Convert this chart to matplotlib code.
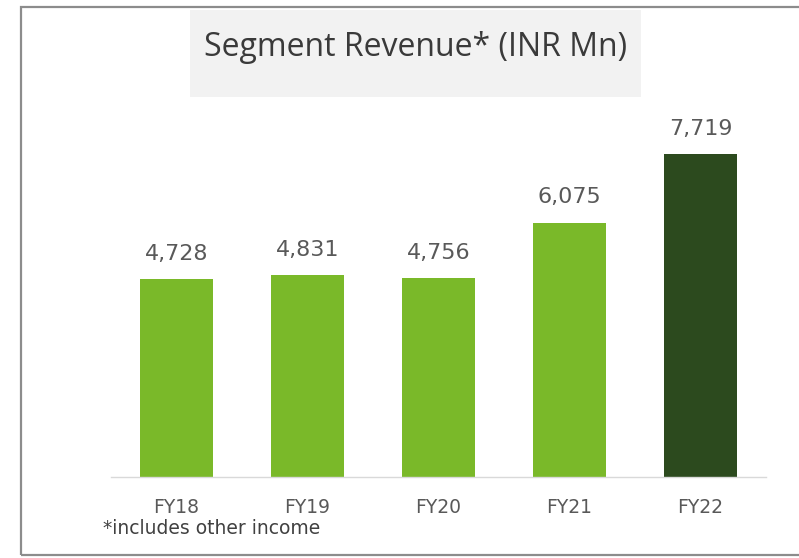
import matplotlib
matplotlib.use("Agg")
import matplotlib.pyplot as plt
from matplotlib.patches import Rectangle

categories = ["FY18", "FY19", "FY20", "FY21", "FY22"]
values = [4728, 4831, 4756, 6075, 7719]
value_labels = ["4,728", "4,831", "4,756", "6,075", "7,719"]
bar_colors = ["#7ab929", "#7ab929", "#7ab929", "#7ab929", "#2c4a1e"]

W, H = 799, 558
fig = plt.figure(figsize=(W / 100, H / 100), dpi=100)
fig.patch.set_facecolor("white")

# outer border
fig.add_artist(Rectangle((21 / W, 3 / H), (W + 5 - 21) / W, (551 - 3) / H,
                         transform=fig.transFigure, fill=False,
                         edgecolor="#8c8c8c", linewidth=1.6))
# title box
fig.add_artist(Rectangle((190 / W, (H - 97) / H), (641 - 190) / W, (97 - 10) / H,
                         transform=fig.transFigure, facecolor="#f2f2f2",
                         edgecolor="none"))
fig.text(416 / W, (H - 47) / H, "Segment Revenue* (INR Mn)", ha="center",
         va="center", fontsize=23, color="#3a3a3a", family="Open Sans")

ax_left, ax_right = 111, 766
ax_bottom_px, ax_top_px = 477, 100
ax = fig.add_axes([ax_left / W, (H - ax_bottom_px) / H,
                   (ax_right - ax_left) / W, (ax_bottom_px - ax_top_px) / H])
ax.set_facecolor("none")
x = list(range(len(categories)))
ax.bar(x, values, width=0.56, color=bar_colors, zorder=2)
ax.set_xlim(-0.5, 4.5)
ax.set_ylim(0, 9008)
for xi, v, lab in zip(x, values, value_labels):
    ax.annotate(lab, (xi, v), xytext=(0, 11), textcoords="offset points",
                ha="center", va="bottom", fontsize=16, color="#595959",
                family="DejaVu Sans")
for s in ["top", "right", "left"]:
    ax.spines[s].set_visible(False)
ax.spines["bottom"].set_color("#d9d9d9")
ax.spines["bottom"].set_linewidth(1.0)
ax.set_yticks([])
ax.set_xticks(x)
ax.set_xticklabels(categories, fontsize=13.5, color="#595959", family="DejaVu Sans")
ax.tick_params(axis="x", length=0, pad=15)

fig.text(103 / W, (H - 528) / H, "*includes other income", ha="left",
         va="center", fontsize=13.5, color="#404040", family="DejaVu Sans")

fig.savefig("out.png", dpi=100)
